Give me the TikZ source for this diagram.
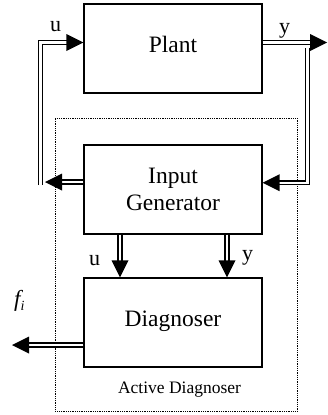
\documentclass[tikz,border=0pt]{standalone}
\usepackage{fontspec}
\setmainfont{Liberation Serif}
\begin{document}
\begin{tikzpicture}[x=1pt,y=-1pt,
  box/.style={draw, line width=1.2pt, minimum width=178pt, minimum height=89pt, inner sep=0pt, font=\fontsize{23.5}{27.6}\selectfont, align=center},
  dbl/.style={double, line width=1.4pt, double distance=2.4pt, shorten >=14pt},
  tip/.style={fill=black},
  lbl/.style={font=\fontsize{22}{26}\selectfont, inner sep=0pt, anchor=base},
  framebox/.style={draw, line width=1pt, dash pattern=on 1pt off 0.8pt, inner sep=0pt}
]
\useasboundingbox (0,0) rectangle (327,415);
\node[framebox, minimum width=241.7pt, minimum height=293.4pt] (ad) at (176.2,265) {};
\node[box, text height=12.5pt, text depth=5pt] (plant) at (173,48.5) {Plant};
\node[box] (ig) at (173,189.5) {Input\\Generator};
\node[box, text height=12.5pt, text depth=5pt] (dg) at (173,322.5) {Diagnoser};
\node[font=\fontsize{17.5}{20}\selectfont, anchor=base, inner sep=0pt] (adl) at (179.5,393.3) {Active Diagnoser};
\node[lbl] (lu1) at (55.5,31) {u};
\node[lbl] (ly1) at (284.5,33) {y};
\node[lbl] (lu2) at (94.5,265) {u};
\node[lbl] (ly2) at (247.5,260) {y};
\node[anchor=base, inner sep=0pt, font=\fontsize{23}{24}\selectfont\itshape] (lf) at (19.3,306) {f\raisebox{-4pt}{\fontsize{14}{16}\selectfont i}};
% u feedback to plant
\coordinate (ubr) at (40.5,185);
\coordinate (uin) at ([yshift=6pt]plant.west);
\draw[dbl] (ubr) |- (uin);
\fill[tip] (uin) -- ++(-17,-8.5) -- ++(0,17) -- cycle;
% y output
\coordinate (yend) at (327,42.5);
\draw[dbl] ([yshift=6pt]plant.east) -- (yend);
\fill[tip] (yend) -- ++(-17,-8.5) -- ++(0,17) -- cycle;
% y to input generator
\coordinate (ybr) at (307.5,47.5);
\coordinate (yin) at ([yshift=6.8pt]ig.east);
\draw[dbl] (ybr) |- (yin);
\fill[tip] (yin) -- ++(17,-8.5) -- ++(0,17) -- cycle;
% u out of input generator
\coordinate (uout) at (45,182);
\draw[dbl] ([yshift=7.5pt]ig.west) -- (uout);
\fill[tip] (uout) -- ++(17,-8.5) -- ++(0,17) -- cycle;
% u, y down to diagnoser
\coordinate (du) at ([xshift=-53pt]dg.north);
\coordinate (dy) at ([xshift=54pt]dg.north);
\draw[dbl] ([xshift=-53pt]ig.south) -- (du);
\fill[tip] (du) -- ++(-8.5,-17) -- ++(17,0) -- cycle;
\draw[dbl] ([xshift=54pt]ig.south) -- (dy);
\fill[tip] (dy) -- ++(-8.5,-17) -- ++(17,0) -- cycle;
% fault output
\coordinate (fout) at (12,345);
\draw[dbl] ([yshift=-22.5pt]dg.west) -- (fout);
\fill[tip] (fout) -- ++(17,-8.5) -- ++(0,17) -- cycle;
\end{tikzpicture}
\end{document}
